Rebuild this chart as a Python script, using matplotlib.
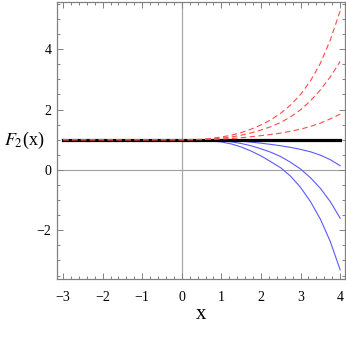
import numpy as np
import matplotlib
matplotlib.use("Agg")
import matplotlib.pyplot as plt
from matplotlib.ticker import MultipleLocator

# 値は図から読み取り (x < 0 は全て 1)
x_vals = [-3, 0, 0.25, 0.5, 0.75, 1, 1.25, 1.5, 1.75, 2,
          2.25, 2.5, 2.75, 3, 3.25, 3.5, 3.75, 4]

red_top = [1, 1, 1.002, 1.015, 1.045, 1.09, 1.15, 1.235, 1.35, 1.49,
           1.66, 1.88, 2.15, 2.50, 2.95, 3.53, 4.30, 5.27]
red_mid = [1, 1, 1.001, 1.008, 1.025, 1.05, 1.09, 1.15, 1.225, 1.32,
           1.43, 1.575, 1.76, 1.99, 2.29, 2.65, 3.08, 3.59]
red_low = [1, 1, 1.0, 1.003, 1.01, 1.02, 1.04, 1.065, 1.10, 1.135,
           1.175, 1.22, 1.28, 1.35, 1.44, 1.55, 1.69, 1.85]

blue_top = [1, 1, 1.0, 0.999, 0.995, 0.985, 0.97, 0.95, 0.92, 0.885,
            0.845, 0.80, 0.745, 0.68, 0.60, 0.49, 0.34, 0.14]
blue_mid = [1, 1, 1.0, 0.995, 0.985, 0.965, 0.93, 0.875, 0.80, 0.70,
            0.585, 0.44, 0.25, 0.03, -0.26, -0.61, -1.05, -1.60]
blue_low = [1, 1, 0.999, 0.99, 0.965, 0.925, 0.86, 0.76, 0.625, 0.465,
            0.27, 0.07, -0.21, -0.58, -1.05, -1.63, -2.37, -3.31]

base_x = [-3, 4]
base_y = [1, 1]

x_ticks = [-3, -2, -1, 0, 1, 2, 3, 4]
y_ticks = [-2, 0, 2, 4]

plt.rcParams['font.family'] = ['Liberation Serif', 'DejaVu Serif']
plt.rcParams['mathtext.fontset'] = 'stix'

fig = plt.figure(figsize=(3.46, 3.46), dpi=100)
ax = fig.add_axes([0.165, 0.194, 0.833, 0.800])

frame_col = '#808080'

# 軸線
ax.axhline(0, color='#a0a0a0', lw=0.8, zorder=1)
ax.axvline(0, color='#a8a8a8', lw=0.9, zorder=1)

# 青線 (下側)
for ys in (blue_top, blue_mid, blue_low):
    ax.plot(x_vals, ys, color='#5a5aff', lw=0.8, zorder=2)

# 黒の基準線
ax.plot(base_x, base_y, color='black', lw=2.3, zorder=3)

# 赤の破線
for ys in (red_top, red_mid, red_low):
    ax.plot(x_vals, ys, color='#ff4a4a', lw=0.8, dashes=(5, 3), zorder=4)

ax.set_xlim(-3.15, 4.13)
ax.set_ylim(-3.61, 5.56)

ax.set_xticks(x_ticks)
ax.set_yticks(y_ticks)
ax.xaxis.set_minor_locator(MultipleLocator(0.2))
ax.yaxis.set_minor_locator(MultipleLocator(0.5))

for s in ax.spines.values():
    s.set_color(frame_col)
    s.set_linewidth(0.9)

ax.tick_params(which='both', direction='in', top=True, right=True,
               color=frame_col, width=0.7, labelsize=10)
ax.tick_params(which='major', length=4)
ax.tick_params(which='minor', length=2)
ax.tick_params(axis='x', pad=9)
ax.tick_params(axis='y', pad=4)

fig.text(0.012, 0.595, r'$F_2$(x)', fontsize=13, ha='left', va='center')
fig.text(0.580, 0.090, 'x', fontsize=15, ha='center', va='center')

fig.savefig('out.png', dpi=100)
